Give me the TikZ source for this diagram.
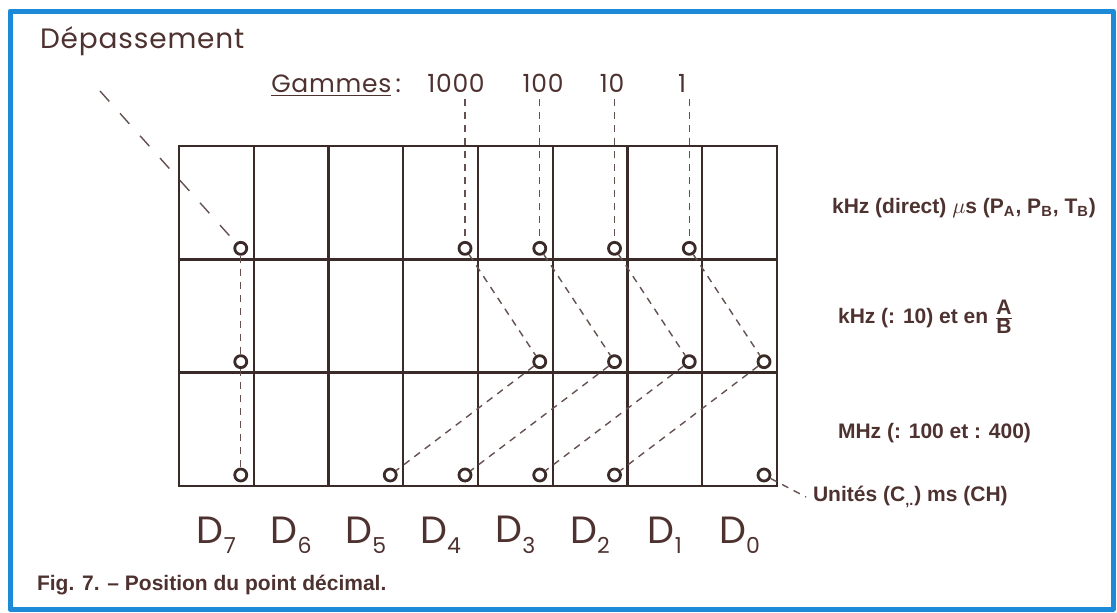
\documentclass[tikz,border=0pt]{standalone}
\usepackage{fontspec}
\setmainfont{Liberation Sans}
\newfontfamily\handfont{Poppins}[LetterSpace=3]

\definecolor{ink}{RGB}{78,50,48}
\definecolor{gridc}{RGB}{58,42,40}
\definecolor{dashc}{RGB}{100,82,80}
\definecolor{frame}{RGB}{28,138,214}

\begin{document}
\begin{tikzpicture}[x=0.5pt,y=-0.5pt,line join=round,
  font=\fontsize{10.5}{12.5}\selectfont\bfseries,text=ink,
  gridline/.style={draw=gridc,line width=1.2pt,line cap=rect},
  ring/.style={circle,draw=gridc,fill=white,line width=1.4pt,minimum size=6pt,inner sep=0pt},
  link/.style={draw=dashc,line width=0.7pt,dash pattern=on 3.5pt off 3pt},
  hand/.style={font=\handfont\fontsize{#1}{#1}\selectfont,text=ink},
  hand/.default=12.5]
  \useasboundingbox (0,0) rectangle (1117,612);
  \draw[draw=frame,line width=2.5pt] (10,11) rectangle (1113,609);

  \foreach \i in {0,...,8}
    \draw[gridline] (179+\i*74.75,146) -- (179+\i*74.75,486);
  \foreach \j in {0,...,3}
    \draw[gridline] (179,146+\j*113.33) -- (777,146+\j*113.33);

  \foreach \r/\ds in {1/{7,4,3,2,1},2/{7,3,2,1,0},3/{7,5,4,3,2,0}}
    \foreach \d in \ds
      \node[ring] (r\r-\d) at ({166+(8-\d)*74.75},{135+\r*113.33}) {};

  \node[hand=14,anchor=base west] (depass) at (33,48) {Dépassement};
  \node[hand,anchor=base east] (gam) at (408,92) {\underline{Gammes}\,:};
  \foreach \g/\x in {1000/456,100/543,10/612,1/682}
    \node[hand,anchor=base] (g\g) at (\x,92) {\g};

  \coordinate (depass-end) at (100,91);
  \draw[link,dash pattern=on 7pt off 8pt] (depass-end) -- (r1-7);
  \foreach \g/\d in {1000/4,100/3,10/2,1/1}
    \draw[link] (g\g.south -| r1-\d) -- (r1-\d);
  \draw[link] (r1-7) -- (r2-7) -- (r3-7);
  \foreach \a/\b in {4/3,3/2,2/1,1/0}
    \draw[link] (r1-\a) -- (r2-\b);
  \foreach \a/\b in {3/5,2/4,1/3,0/2}
    \draw[link] (r2-\a) -- (r3-\b);

  \node[anchor=west] (lab-direct) at (825,208)
    {kHz (direct) $\mu$s (P\textsubscript{A}, P\textsubscript{B}, T\textsubscript{B})};
  \node[anchor=west] (lab-ab) at (831,317) {kHz (: 10) et en $\frac{\mbox{A}}{\mbox{B}}$};
  \node[anchor=west] (lab-mhz) at (831,433) {MHz (: 100 et : 400)};
  \node[anchor=west] (lab-unit) at (806,497) {Unités (C\textsubscript{,.}) ms (CH)};
  \draw[link] (r3-0) -- (lab-unit.west);

  \foreach \d in {7,6,...,0}
    \node[hand=19] (D\d) at ({179+(7.5-\d)*74.75},535)
      {D\raisebox{-0.5ex}{\fontsize{11}{11}\selectfont\d}};
  \node[anchor=west] (caption) at (30,585) {Fig. 7. – Position du point décimal.};
\end{tikzpicture}
\end{document}
